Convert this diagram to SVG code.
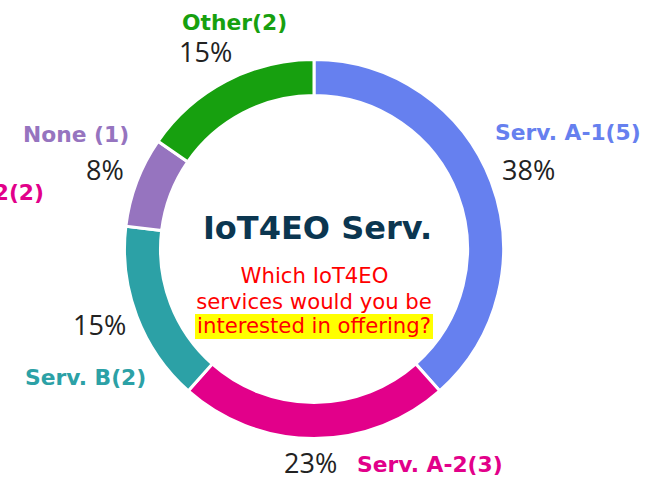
<svg xmlns="http://www.w3.org/2000/svg" width="646" height="478" viewBox="0 0 646 478">
<style>
.seg{stroke:#fff;stroke-width:3;stroke-linejoin:miter}
.lbl{font-family:"DejaVu Sans","Liberation Sans",sans-serif;font-weight:bold;font-size:21.8px}
.pct{font-family:"Open Sans","Noto Sans",sans-serif;font-size:27px;fill:#222}
.q{font-family:"DejaVu Sans","Liberation Sans",sans-serif;font-size:21.2px;fill:#ff0000;text-anchor:middle}
</style>
<rect width="646" height="478" fill="#fff"/>
<g id="serv-a1">
<path class="seg" fill="#6680ef" d="M314,59.5 A189.5,189.5 0 0 1 439.66,390.84 L415.79,363.9 A153.5,153.5 0 0 0 314,95.5 Z"/>
<text class="lbl" x="495" y="140" fill="#6680ef">Serv. A-1(5)</text>
<text class="pct" x="502" y="180">38%</text>
</g>
<g id="serv-a2">
<path class="seg" fill="#e2008a" d="M439.66,390.84 A189.5,189.5 0 0 1 188.34,390.84 L212.21,363.9 A153.5,153.5 0 0 0 415.79,363.9 Z"/>
<text class="lbl" x="357" y="472" fill="#e2008a">Serv. A-2(3)</text>
<text class="pct" x="284" y="473">23%</text>
</g>
<g id="serv-b">
<path class="seg" fill="#2ca1a6" d="M188.34,390.84 A189.5,189.5 0 0 1 125.88,226.16 L161.62,230.5 A153.5,153.5 0 0 0 212.21,363.9 Z"/>
<text class="lbl" x="25" y="385" fill="#2ca1a6">Serv. B(2)</text>
<text class="pct" x="73" y="335">15%</text>
</g>
<g id="none">
<path class="seg" fill="#9674bf" d="M125.88,226.16 A189.5,189.5 0 0 1 158.04,141.35 L187.67,161.8 A153.5,153.5 0 0 0 161.62,230.5 Z"/>
<text class="lbl" x="23" y="142" fill="#9674bf">None (1)</text>
<text class="pct" x="86" y="180">8%</text>
</g>
<g id="other">
<path class="seg" fill="#17a00f" d="M158.04,141.35 A189.5,189.5 0 0 1 314,59.5 L314,95.5 A153.5,153.5 0 0 0 187.67,161.8 Z"/>
<text class="lbl" x="182" y="30" fill="#17a00f">Other(2)</text>
<text class="pct" x="179" y="62">15%</text>
</g>
<g id="clipped-label">
<text class="lbl" x="44" y="200" fill="#e2008a" text-anchor="end">2(2)</text>
</g>
<g id="center">
<text x="317.5" y="239" text-anchor="middle" font-family="DejaVu Sans, Liberation Sans, sans-serif" font-weight="bold" font-size="32" fill="#0b3650">IoT4EO Serv.</text>
<rect x="195" y="314" width="238" height="25" fill="#ffff00"/>
<text class="q" x="314.5" y="283">Which IoT4EO</text>
<text class="q" x="314" y="309">services would you be</text>
<text class="q" x="314" y="333">interested in offering?</text>
</g>
</svg>
